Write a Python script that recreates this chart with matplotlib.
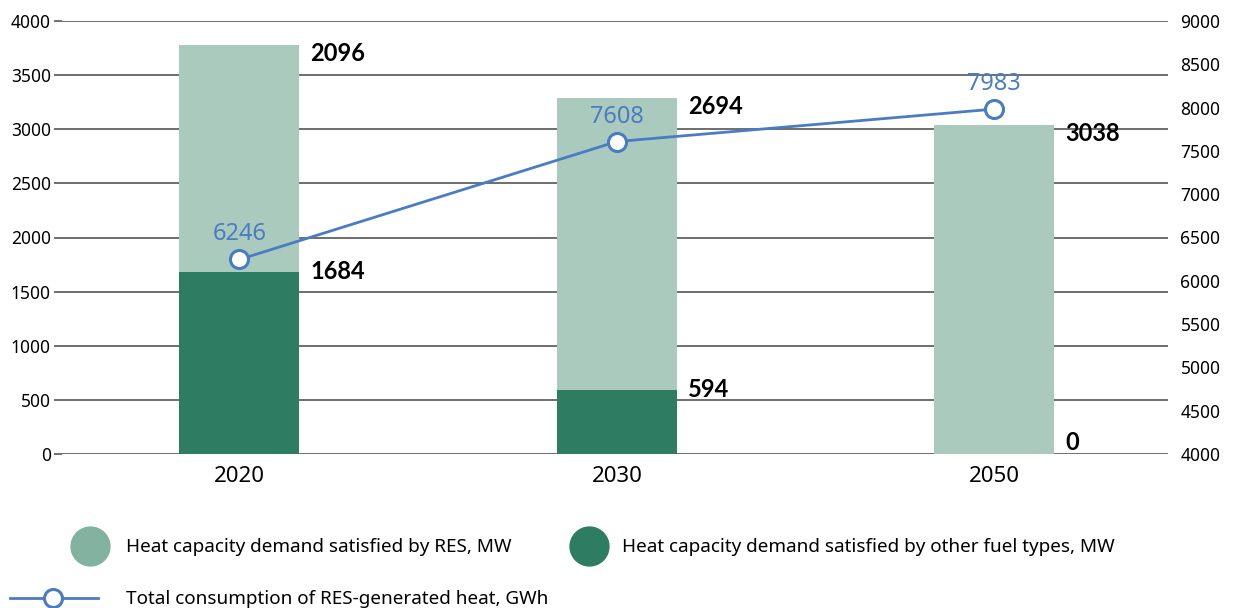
import matplotlib.pyplot as plt
from matplotlib.lines import Line2D
import numpy as np

years = ['2020', '2030', '2050']
res_mw = [2096, 2694, 3038]
other_mw = [1684, 594, 0]
heat_gwh = [6246, 7608, 7983]

plt.rcParams['font.family'] = ['Noto Sans', 'DejaVu Sans']

LIGHT = '#abcabe'
DARK = '#2e7d62'
BLUE = '#4a7cc4'
GRID = '#555555'
BOLD_FONT = ['Lato', 'DejaVu Sans']

W, H = 1237, 608
fig = plt.figure(figsize=(W / 100, H / 100), dpi=100)
ax = fig.add_axes([62 / W, 1 - 454 / H, (1168 - 62) / W, (454 - 21) / H])

x = np.arange(len(years))
width = 0.318
totals = [a + b for a, b in zip(res_mw, other_mw)]

ax.set_axisbelow(True)
ax.bar(x, other_mw, width, color=DARK, zorder=2)
ax.bar(x, res_mw, width, bottom=other_mw, color=LIGHT, zorder=2)

# value labels right of bars
for xi, tot, oth, res in zip(x, totals, other_mw, res_mw):
    ax.annotate(f'{res}', (xi + width / 2, tot), xytext=(8, -6), textcoords='offset points',
                ha='left', va='center', fontsize=17, fontweight='bold', family=BOLD_FONT)
    va = 'bottom' if oth == 0 else 'center'
    ax.annotate(f'{oth}', (xi + width / 2, oth), xytext=(8, 0), textcoords='offset points',
                ha='left', va=va, fontsize=17, fontweight='bold', family=BOLD_FONT)

ax.set_xlim(-0.47, 2.46)
ax.set_ylim(0, 4000)
ax.set_yticks(np.arange(0, 4001, 500))
ax.set_xticks(x)
ax.set_xticklabels(years, fontsize=16)
ax.tick_params(axis='x', length=0, pad=9)
ax.tick_params(axis='y', length=6, width=1.2, color=GRID, labelsize=12.5, pad=2)
ax.yaxis.grid(True, color=GRID, linewidth=1.2)
for s in ax.spines.values():
    s.set_visible(False)

ax2 = ax.twinx()
ax2.plot(x, heat_gwh, color=BLUE, linewidth=2, marker='o', markersize=13,
         markerfacecolor='white', markeredgecolor=BLUE, markeredgewidth=2.2, zorder=3)
for xi, v in zip(x, heat_gwh):
    ax2.annotate(f'{v}', (xi, v), xytext=(0, 18), textcoords='offset points',
                 ha='center', va='center', fontsize=17, color=BLUE)
ax2.set_ylim(4000, 9000)
ax2.set_yticks(np.arange(4000, 9001, 500))
ax2.tick_params(axis='y', length=0, labelsize=12.5, pad=9)
for s in ax2.spines.values():
    s.set_visible(False)

# legend, laid out by hand below the chart
fig.add_artist(Line2D([90 / W], [1 - 546 / H], transform=fig.transFigure, marker='o',
                      markersize=28, color='#82b3a0', linestyle='none'))
fig.text(126 / W, 1 - 547 / H, 'Heat capacity demand satisfied by RES, MW',
         fontsize=13.6, va='center', ha='left')
fig.add_artist(Line2D([589 / W], [1 - 546 / H], transform=fig.transFigure, marker='o',
                      markersize=28, color=DARK, linestyle='none'))
fig.text(622 / W, 1 - 547 / H, 'Heat capacity demand satisfied by other fuel types, MW',
         fontsize=13.6, va='center', ha='left')
fig.add_artist(Line2D([10 / W, 98 / W], [1 - 598 / H, 1 - 598 / H], transform=fig.transFigure,
                      color=BLUE, linewidth=2))
fig.add_artist(Line2D([53 / W], [1 - 598 / H], transform=fig.transFigure, marker='o',
                      markersize=13, markerfacecolor='white', markeredgecolor=BLUE,
                      markeredgewidth=2.2, linestyle='none'))
fig.text(126 / W, 1 - 599 / H, 'Total consumption of RES-generated heat, GWh',
         fontsize=13.6, va='center', ha='left')

fig.savefig('out.png', dpi=100)
